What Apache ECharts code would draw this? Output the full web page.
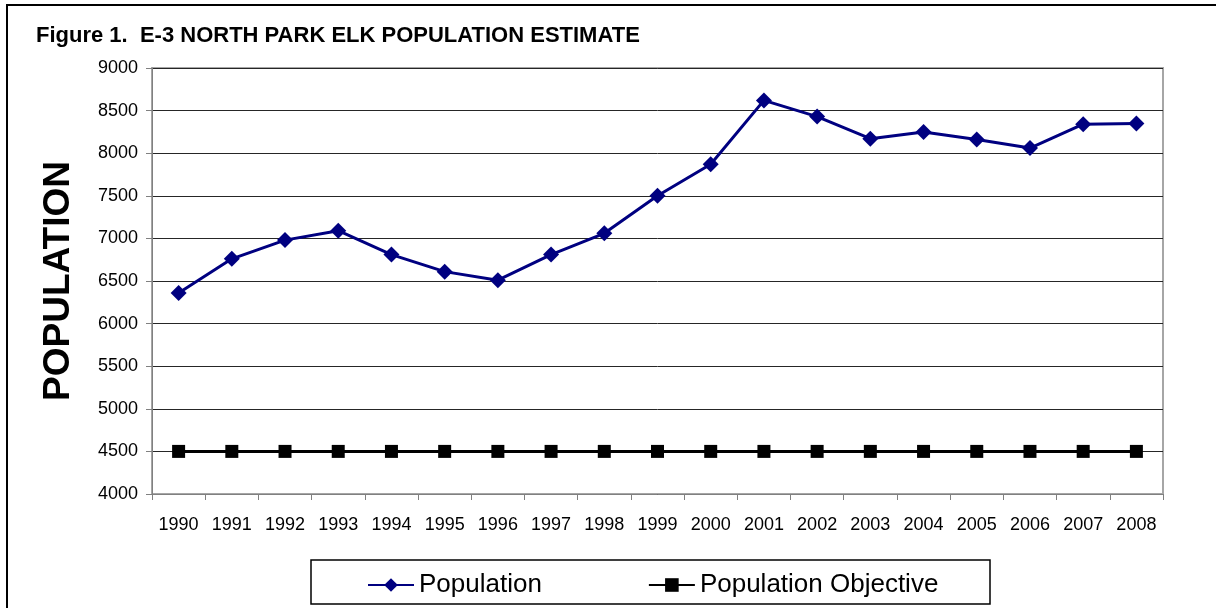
<!DOCTYPE html>
<html>
<head>
<meta charset="utf-8">
<script src="https://cdn.jsdelivr.net/npm/echarts@6/dist/echarts.min.js"></script>
<style>
  html, body { margin: 0; padding: 0; background: #fff; }
  #chart { width: 1216px; height: 608px; }
</style>
</head>
<body>
<div id="chart"></div>
<script>
// Survey years and herd estimates
const years = ['1990','1991','1992','1993','1994','1995','1996','1997','1998','1999',
               '2000','2001','2002','2003','2004','2005','2006','2007','2008'];
const population = [6360, 6760, 6980, 7090, 6810, 6610, 6510, 6810, 7060, 7500,
                    7870, 8620, 8430, 8170, 8250, 8160, 8060, 8340, 8350];
const objective = [4500, 4500, 4500, 4500, 4500, 4500, 4500, 4500, 4500, 4500,
                   4500, 4500, 4500, 4500, 4500, 4500, 4500, 4500, 4500];
const yMin = 4000, yMax = 9000, yStep = 500;

const FONT = '"Liberation Sans", Arial, sans-serif';
const chart = echarts.init(document.getElementById('chart'), null, { renderer: 'canvas' });

chart.setOption({
  animation: false,
  backgroundColor: '#ffffff',
  title: {
    text: 'Figure 1.  E-3 NORTH PARK ELK POPULATION ESTIMATE',
    left: 31, top: 20,
    textStyle: { fontFamily: FONT, fontSize: 22, fontWeight: 'bold', color: '#000' }
  },
  grid: { left: 152, right: 53, top: 68, bottom: 114, containLabel: false,
          show: true, borderColor: '#a6a6a6', borderWidth: 2, backgroundColor: 'transparent' },
  legend: {
    left: 362, top: 567,
    itemWidth: 46, itemHeight: 17, itemGap: 106,
    textStyle: { fontFamily: FONT, fontSize: 26, color: '#000' },
    data: ['Population', 'Population Objective']
  },
  xAxis: {
    type: 'category',
    data: years,
    boundaryGap: true,
    axisLine: { lineStyle: { color: '#808080', width: 1 } },
    axisTick: { show: true, alignWithLabel: false, length: 6, lineStyle: { color: '#808080' } },
    axisLabel: { fontFamily: FONT, fontSize: 18, color: '#000', margin: 22, interval: 0 },
    splitLine: { show: false }
  },
  yAxis: {
    type: 'value',
    min: yMin, max: yMax, interval: yStep,
    name: 'POPULATION',
    nameLocation: 'middle',
    nameGap: 75,
    nameRotate: 90,
    nameTextStyle: { fontFamily: FONT, fontSize: 37, fontWeight: 'bold', color: '#000' },
    axisLine: { show: true, lineStyle: { color: '#808080', width: 1 } },
    axisTick: { show: true, length: 6, lineStyle: { color: '#808080' } },
    axisLabel: { fontFamily: FONT, fontSize: 18, color: '#000', margin: 14,
                 formatter: v => String(v) },
    splitLine: { show: true, lineStyle: { color: '#262626', width: 1 } }
  },
  series: [
    {
      name: 'Population',
      type: 'line',
      data: population,
      symbol: 'diamond',
      symbolSize: 16,
      lineStyle: { color: '#000080', width: 3 },
      itemStyle: { color: '#000080' },
      z: 3
    },
    {
      name: 'Population Objective',
      type: 'line',
      data: objective,
      symbol: 'rect',
      symbolSize: 13,
      lineStyle: { color: '#000000', width: 3 },
      itemStyle: { color: '#000000' },
      z: 2
    }
  ],
  graphic: [
    // outer figure frame (left and top edges)
    { type: 'polyline', silent: true,
      shape: { points: [[7, 608], [7, 5], [1216, 5]] },
      style: { stroke: '#000', lineWidth: 2, fill: null } },
    // legend box
    { type: 'rect', silent: true, z: -1,
      shape: { x: 311, y: 560, width: 679, height: 44 },
      style: { stroke: '#000', lineWidth: 1.5, fill: '#fff' } }
  ]
});
</script>
</body>
</html>
